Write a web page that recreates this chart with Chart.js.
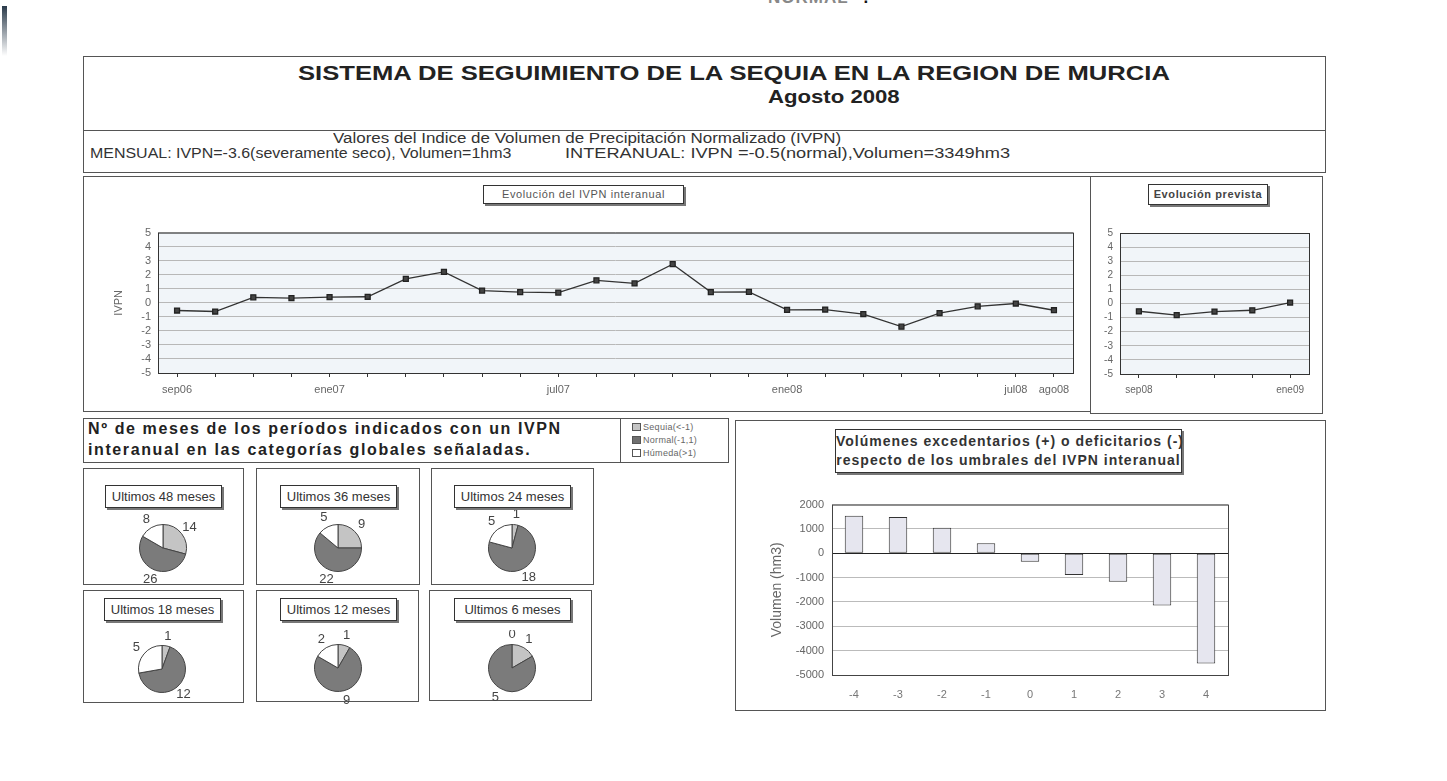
<!DOCTYPE html>
<html>
<head>
<meta charset="utf-8">
<title>Sistema de seguimiento de la sequia - Agosto 2008</title>
<script src="https://cdn.jsdelivr.net/npm/chart.js@4/dist/chart.umd.min.js"></script>
<style>
    body { margin: 0; width: 1447px; height: 781px; background: #fff; position: relative; overflow: hidden;
        font-family: "Liberation Sans", Arial, sans-serif; color: #333; }
    .box { position: absolute; border: 1px solid #555; box-sizing: border-box; }
    .txt { position: absolute; white-space: nowrap; transform-origin: left top; }
    .tbox { position: absolute; border: 1px solid #333; box-shadow: 2px 2px 0 #777; background: #fff;
        box-sizing: border-box; text-align: center; white-space: nowrap; }
    .cv { position: absolute; }
    .leg { font-size: 9px; color: #666; line-height: 13px; letter-spacing: 0.3px; }
    .leg i { display: inline-block; width: 7px; height: 6px; border: 1px solid #555; margin-right: 2px; vertical-align: -1px; }
</style>
</head>
<body>

<!-- scan edges -->
<div class="txt" style="left:768px;top:-12px;font-size:17px;font-weight:bold;color:#888;letter-spacing:1px">NORMAL" <span style="color:#111">.</span></div>
<div style="position:absolute;left:2px;top:6px;width:5px;height:50px;background:linear-gradient(#2a3a4a,#fff)"></div>

<!-- header -->
<div class="box" style="left:83px;top:56px;width:1243px;height:75px"></div>
<div class="txt" style="left:298px;top:62px;font-size:20px;font-weight:bold;color:#222;transform:scaleX(1.28)">SISTEMA DE SEGUIMIENTO DE LA SEQUIA EN LA REGION DE MURCIA</div>
<div class="txt" style="left:768px;top:87px;font-size:18px;font-weight:bold;color:#222;transform:scaleX(1.23)">Agosto 2008</div>

<div class="box" style="left:83px;top:130px;width:1243px;height:43px"></div>
<div class="txt" style="left:333px;top:130px;font-size:14px;transform:scaleX(1.21)">Valores del Indice de Volumen de Precipitación Normalizado (IVPN)</div>
<div class="txt" style="left:90px;top:145px;font-size:14px;transform:scaleX(1.14)">MENSUAL: IVPN=-3.6(severamente seco), Volumen=1hm3</div>
<div class="txt" style="left:565px;top:145px;font-size:14px;transform:scaleX(1.3)">INTERANUAL: IVPN =-0.5(normal),Volumen=3349hm3</div>

<!-- evolucion interanual -->
<div class="box" style="left:83px;top:176px;width:1008px;height:236px"></div>
<div class="tbox" style="left:483px;top:185px;width:201px;height:19px;font-size:11px;line-height:17px;letter-spacing:0.6px;color:#555">Evolución del IVPN interanual</div>
<div class="cv" style="left:110px;top:219px;width:970px;height:191px"><canvas id="ivpnChart"></canvas></div>

<!-- evolucion prevista -->
<div class="box" style="left:1090px;top:176px;width:233px;height:238px"></div>
<div class="tbox" style="left:1148px;top:184px;width:120px;height:21px;font-size:11px;line-height:19px;letter-spacing:0.6px;font-weight:bold;color:#444">Evolución prevista</div>
<div class="cv" style="left:1095px;top:220px;width:222px;height:190px"><canvas id="prevChart"></canvas></div>

<!-- pies -->
<div class="box" style="left:83px;top:418px;width:538px;height:45px"></div>
<div class="txt" style="left:88px;top:418px;font-size:16px;font-weight:bold;letter-spacing:1.6px;line-height:21px;color:#222">Nº de meses de los períodos indicados con un IVPN<br>interanual en las categorías globales señaladas.</div>
<div class="box" style="left:620px;top:418px;width:109px;height:45px"></div>
<div class="txt leg" style="left:632px;top:421px">
    <i style="background:#c4c4c4"></i>Sequia(&lt;-1)<br>
    <i style="background:#6f6f6f"></i>Normal(-1,1)<br>
    <i style="background:#fff"></i>Húmeda(&gt;1)
</div>
<div id="pies"></div>

<!-- volumenes -->
<div class="box" style="left:735px;top:420px;width:591px;height:291px"></div>
<div class="tbox" style="left:835px;top:429px;width:347px;height:44px;font-size:14px;font-weight:bold;line-height:19px;padding-top:2px;letter-spacing:1px;color:#333">Volúmenes excedentarios (+) o deficitarios (-)<br>respecto de los umbrales del IVPN interanual</div>
<div class="cv" style="left:765px;top:490px;width:555px;height:215px"><canvas id="volChart"></canvas></div>

<script>
// Evolucion del IVPN interanual
const months = ['sep06', 'oct06', 'nov06', 'dic06', 'ene07', 'feb07', 'mar07', 'abr07', 'may07', 'jun07',
    'jul07', 'ago07', 'sep07', 'oct07', 'nov07', 'dic07', 'ene08', 'feb08', 'mar08', 'abr08', 'may08',
    'jun08', 'jul08', 'ago08'];
const monthsShown = ['sep06', 'ene07', 'jul07', 'ene08', 'jul08', 'ago08'];
const ivpnValues = [-0.55, -0.62, 0.39, 0.34, 0.41, 0.43, 1.7, 2.2, 0.87, 0.76, 0.73, 1.6, 1.38, 2.75,
    0.76, 0.78, -0.5, -0.48, -0.8, -1.7, -0.73, -0.25, -0.05, -0.53];

// Evolucion prevista
const prevMonths = ['sep08', 'oct08', 'nov08', 'dic08', 'ene09'];
const prevShown = ['sep08', 'ene09'];
const prevValues = [-0.55, -0.82, -0.57, -0.48, 0.07];

// Nº de meses por categoria (Sequia, Normal, Humeda)
const categories = ['Sequia(<-1)', 'Normal(-1,1)', 'Húmeda(>1)'];
const periods = ['Ultimos 48 meses', 'Ultimos 36 meses', 'Ultimos 24 meses',
    'Ultimos 18 meses', 'Ultimos 12 meses', 'Ultimos 6 meses'];
const months48 = [14, 26, 8];
const months36 = [9, 22, 5];
const months24 = [1, 18, 5];
const months18 = [1, 12, 5];
const months12 = [1, 9, 2];
const months6 = [1, 5, 0];

// Volumenes respecto de los umbrales
const umbrales = ['-4', '-3', '-2', '-1', '0', '1', '2', '3', '4'];
const volumenes = [1540, 1490, 1050, 410, -345, -890, -1170, -2150, -4530];

Chart.defaults.font.family = '"Liberation Sans", Arial, sans-serif';
Chart.defaults.animation = false;
Chart.defaults.plugins.legend.display = false;
Chart.defaults.plugins.tooltip.enabled = false;

// fills the plot background and draws the frame round it
const plotFrame = {
    id: 'plotFrame',
    beforeDraw(chart, args, opts) {
        const a = chart.chartArea;
        chart.ctx.save();
        chart.ctx.fillStyle = opts.bg;
        chart.ctx.fillRect(a.left, a.top, a.width, a.height);
        chart.ctx.restore();
    },
    afterDraw(chart, args, opts) {
        const a = chart.chartArea;
        chart.ctx.save();
        chart.ctx.strokeStyle = opts.border;
        chart.ctx.lineWidth = 1;
        chart.ctx.strokeRect(a.left + 0.5, a.top + 0.5, a.width, a.height);
        chart.ctx.restore();
    }
};

function lineChart(id, labels, shown, values, opt) {
    return new Chart(document.getElementById(id), {
        type: 'line',
        data: {
            labels: labels,
            datasets: [{
                data: values,
                borderColor: '#333',
                borderWidth: 1.3,
                pointStyle: 'rect',
                pointRadius: 3.5,
                pointBackgroundColor: '#444',
                pointBorderColor: '#222',
                tension: 0
            }]
        },
        options: {
            responsive: true,
            maintainAspectRatio: false,
            layout: { padding: { top: opt.top, right: opt.right, left: 0, bottom: 0 } },
            scales: {
                x: {
                    offset: true,
                    grid: { display: true, drawOnChartArea: false, drawTicks: true, tickLength: 4, color: '#333', offset: false },
                    border: { display: false },
                    afterFit: function (scale) { scale.height = opt.xh; },
                    ticks: {
                        autoSkip: false,
                        maxRotation: 0,
                        color: '#666',
                        font: { size: opt.fx },
                        padding: 6,
                        callback: function (value) {
                            const lab = this.getLabelForValue(value);
                            return shown.includes(lab) ? lab : '';
                        }
                    }
                },
                y: {
                    min: -5,
                    max: 5,
                    afterFit: function (scale) { scale.width = opt.yw; },
                    grid: { color: '#b8b8b8', drawTicks: false },
                    border: { display: false },
                    title: { display: opt.title, text: 'IVPN', color: '#666', font: { size: 11 }, padding: 2 },
                    ticks: { stepSize: 1, autoSkip: false, color: '#666', font: { size: opt.fy }, padding: 7 }
                }
            },
            plugins: { plotFrame: { bg: '#f1f5f9', border: '#333' } }
        },
        plugins: [plotFrame]
    });
}

lineChart('ivpnChart', months, monthsShown, ivpnValues,
    { top: 8, right: 7, xh: 37, yw: 48, fx: 11, fy: 11, title: true });
lineChart('prevChart', prevMonths, prevShown, prevValues,
    { top: 8, right: 8, xh: 36, yw: 25, fx: 10, fy: 10, title: false });

// writes each value outside its slice
const sliceLabels = {
    id: 'sliceLabels',
    afterDatasetsDraw(chart) {
        const ctx = chart.ctx;
        const meta = chart.getDatasetMeta(0);
        const values = chart.data.datasets[0].data;
        ctx.save();
        ctx.fillStyle = '#444';
        ctx.font = '13px "Liberation Sans", Arial, sans-serif';
        ctx.textAlign = 'center';
        ctx.textBaseline = 'middle';
        meta.data.forEach(function (arc, i) {
            const p = arc.getProps(['x', 'y', 'startAngle', 'endAngle', 'outerRadius'], true);
            const mid = (p.startAngle + p.endAngle) / 2;
            const r = p.outerRadius + 10;
            ctx.fillText(values[i], p.x + Math.cos(mid) * r, p.y + Math.sin(mid) * r);
        });
        ctx.restore();
    }
};

const pieData = [months48, months36, months24, months18, months12, months6];
const pieBoxes = [[83, 468, 161, 117], [256, 468, 164, 117], [431, 468, 163, 117],
    [83, 590, 161, 113], [256, 590, 163, 112], [429, 590, 163, 111]];
const pieCenters = [[163, 548], [338, 548], [512, 548], [162, 669], [338, 668], [512, 668]];
const piesDiv = document.getElementById('pies');

pieData.forEach(function (values, i) {
    const b = pieBoxes[i];
    const c = pieCenters[i];
    piesDiv.insertAdjacentHTML('beforeend',
        '<div class="box" style="left:' + b[0] + 'px;top:' + b[1] + 'px;width:' + b[2] + 'px;height:' + b[3] + 'px"></div>' +
        '<div class="tbox" style="left:' + (c[0] - 58) + 'px;top:' + (i < 3 ? 485 : 598) + 'px;width:117px;height:23px;' +
        'font-size:13px;line-height:21px;color:#333">' + periods[i] + '</div>' +
        '<div class="cv" style="left:' + (c[0] - 60) + 'px;top:' + (c[1] - 38) + 'px;width:120px;height:76px">' +
        '<canvas id="pie' + i + '"></canvas></div>');

    new Chart(document.getElementById('pie' + i), {
        type: 'pie',
        data: {
            labels: categories,
            datasets: [{
                data: values,
                backgroundColor: ['#c4c4c4', '#7b7b7b', '#ffffff'],
                borderColor: '#444',
                borderWidth: 1
            }]
        },
        options: {
            responsive: true,
            maintainAspectRatio: false,
            layout: { padding: 14 }
        },
        plugins: [sliceLabels]
    });
});

new Chart(document.getElementById('volChart'), {
    type: 'bar',
    data: {
        labels: umbrales,
        datasets: [{
            data: volumenes,
            backgroundColor: '#e6e6ef',
            borderColor: '#333',
            borderWidth: 1,
            borderSkipped: false,
            barPercentage: 0.42,
            categoryPercentage: 1
        }]
    },
    options: {
        responsive: true,
        maintainAspectRatio: false,
        layout: { padding: { top: 8, right: 92, left: 0, bottom: 0 } },
        scales: {
            x: {
                grid: { display: false },
                border: { display: false },
                afterFit: function (scale) { scale.height = 30; },
                ticks: { color: '#777', font: { size: 11 }, padding: 5 }
            },
            y: {
                min: -5000,
                max: 2000,
                afterFit: function (scale) { scale.width = 67; },
                grid: {
                    drawTicks: false,
                    color: function (ctx) { return ctx.tick && ctx.tick.value === 0 ? '#222' : '#bbb'; }
                },
                border: { display: false },
                title: { display: true, text: 'Volumen (hm3)', color: '#666', font: { size: 14 }, padding: 4 },
                ticks: {
                    stepSize: 1000,
                    autoSkip: false,
                    color: '#666',
                    font: { size: 11 },
                    padding: 8,
                    callback: function (value) { return String(value); }
                }
            }
        },
        plugins: { plotFrame: { bg: '#ffffff', border: '#444' } }
    },
    plugins: [plotFrame]
});
</script>
</body>
</html>
